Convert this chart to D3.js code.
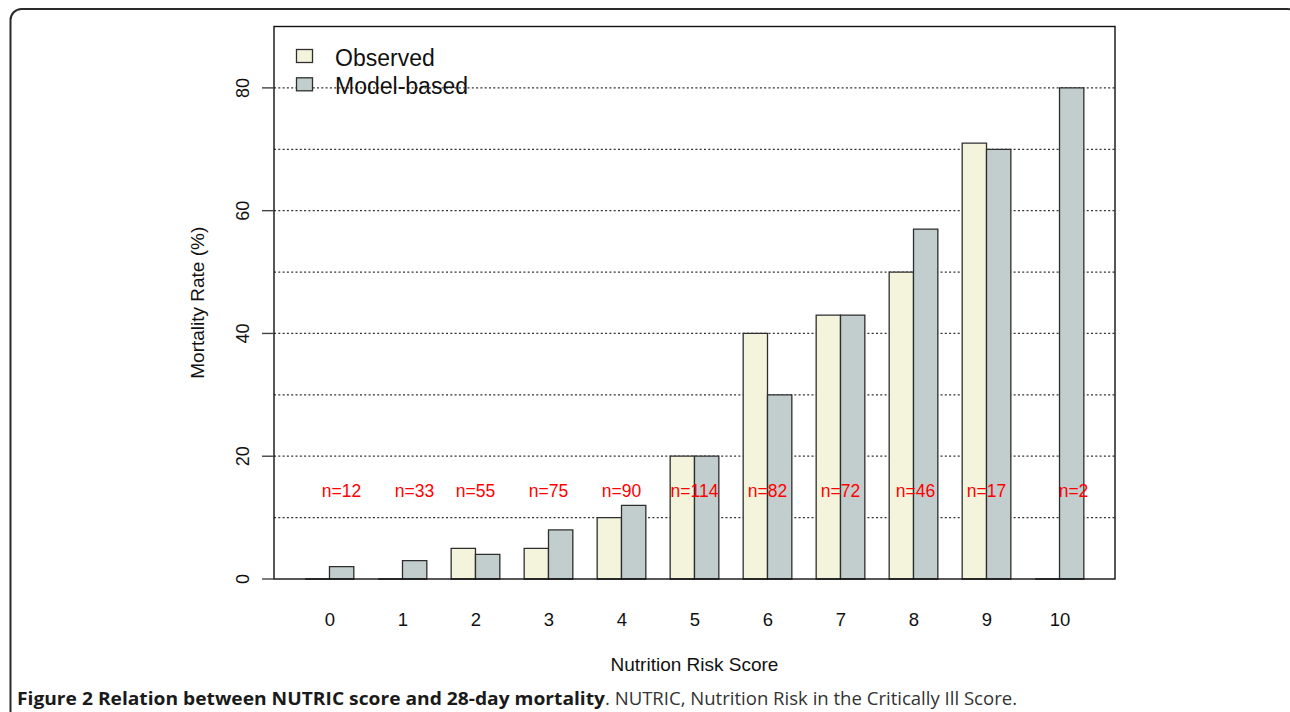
<!DOCTYPE html>
<html>
<head>
<meta charset="utf-8">
<script src="https://cdn.jsdelivr.net/npm/d3@7"></script>
<style>
  body { margin: 0; background: #fff; }
  svg { display: block; }
</style>
</head>
<body>
<svg></svg>
<script>
// data
const scores = [0, 1, 2, 3, 4, 5, 6, 7, 8, 9, 10];
const observed = [0, 0, 5, 5, 10, 20, 40, 43, 50, 71, 0];
const modelBased = [2, 3, 4, 8, 12, 20, 30, 43, 57, 70, 80];
const counts = [12, 33, 55, 75, 90, 114, 82, 72, 46, 17, 2];
const yTicks = [0, 20, 40, 60, 80];
const gridValues = [10, 20, 30, 40, 50, 60, 70, 80];
const seriesNames = ["Observed", "Model-based"];

const w = 1290, h = 712;
const box = { left: 274, right: 1115, top: 26.5, bottom: 579 };
const colors = ["#f4f4dc", "#c2cdcd"];
const chartFont = "'Liberation Sans', Arial, sans-serif";

const svg = d3.select("svg").attr("width", w).attr("height", h);

// outer frame of the figure panel
svg.append("rect")
  .attr("x", 10.5).attr("y", 9)
  .attr("width", 1288).attr("height", 740)
  .attr("rx", 11)
  .attr("fill", "none")
  .attr("stroke", "#2a2a2a")
  .attr("stroke-width", 2);

// like R barplot: one bar unit each, one unit of space before each group, 4% padding
let xScale = d3.scaleLinear()
  .domain([-0.28, 34.28])
  .range([box.left, box.right]);
let yScale = d3.scaleLinear()
  .domain([0, 90])
  .range([box.bottom, box.top]);
const barW = xScale(1) - xScale(0);

// dotted grid
svg.append("g").selectAll("line")
  .data(gridValues)
  .enter().append("line")
  .attr("x1", box.left).attr("x2", box.right)
  .attr("y1", d => yScale(d)).attr("y2", d => yScale(d))
  .attr("stroke", "#333")
  .attr("stroke-width", 1.3)
  .attr("stroke-dasharray", "2,2.3");

// bars as paths so zero values still show as a flat line
function barPath(x, v) {
  const y0 = yScale(0), y1 = yScale(v);
  return `M${x},${y0}V${y1}H${x + barW}V${y0}Z`;
}
const bars = svg.append("g");
[observed, modelBased].forEach(function(series, s) {
  bars.selectAll(".s" + s)
    .data(series)
    .enter().append("path")
    .attr("class", "s" + s)
    .attr("d", (d, i) => barPath(xScale(3 * i + 1 + s), d))
    .attr("fill", colors[s])
    .attr("stroke", "#2e2e2e")
    .attr("stroke-width", 1.3);
});

// plot box
svg.append("rect")
  .attr("x", box.left).attr("y", box.top)
  .attr("width", box.right - box.left).attr("height", box.bottom - box.top)
  .attr("fill", "none")
  .attr("stroke", "#111")
  .attr("stroke-width", 1.4);

// y axis: ticks to the left, rotated labels
const yAxisG = svg.append("g");
yAxisG.selectAll("line")
  .data(yTicks)
  .enter().append("line")
  .attr("x1", box.left - 12).attr("x2", box.left)
  .attr("y1", d => yScale(d)).attr("y2", d => yScale(d))
  .attr("stroke", "#444")
  .attr("stroke-width", 1.4);
yAxisG.selectAll("text")
  .data(yTicks)
  .enter().append("text")
  .attr("transform", d => `translate(248.5,${yScale(d)})rotate(-90)`)
  .attr("text-anchor", "middle")
  .style("font-family", chartFont)
  .style("font-size", "18px")
  .attr("fill", "#111")
  .text(d => d);

// x axis: labels only, at group centres
const xAxis = d3.axisBottom(xScale)
  .tickValues(scores.map(s => 3 * s + 2))
  .tickFormat((d, i) => scores[i])
  .tickSize(0)
  .tickPadding(0);
const xAxisG = svg.append("g")
  .attr("transform", `translate(0,${box.bottom})`)
  .call(xAxis);
xAxisG.select(".domain").remove();
xAxisG.selectAll("text")
  .attr("dy", null)
  .attr("y", 47)
  .style("font-family", chartFont)
  .style("font-size", "18.5px")
  .attr("fill", "#111");

// sample sizes, in red
const nudge = { 0: 12, 1: 12, 10: 14, 8: 2 };
svg.append("g").selectAll("text")
  .data(counts)
  .enter().append("text")
  .attr("x", (d, i) => xScale(3 * i + 2) + (nudge[i] || 0))
  .attr("y", 496.5)
  .attr("text-anchor", "middle")
  .style("font-family", chartFont)
  .style("font-size", "17.5px")
  .attr("fill", "#ff0000")
  .text(d => "n=" + d);

// axis titles
svg.append("text")
  .attr("x", (box.left + box.right) / 2)
  .attr("y", 670.5)
  .attr("text-anchor", "middle")
  .style("font-family", chartFont)
  .style("font-size", "19px")
  .attr("fill", "#111")
  .text("Nutrition Risk Score");
svg.append("text")
  .attr("transform", `translate(204,${(box.top + box.bottom) / 2})rotate(-90)`)
  .attr("text-anchor", "middle")
  .style("font-family", chartFont)
  .style("font-size", "19px")
  .attr("fill", "#111")
  .text("Mortality Rate (%)");

// legend
const legend = svg.append("g").selectAll("g")
  .data(seriesNames)
  .enter().append("g")
  .attr("transform", (d, i) => `translate(0,${i * 28.3})`);
legend.append("rect")
  .attr("x", 296.5).attr("y", 49.5)
  .attr("width", 16).attr("height", 13)
  .attr("fill", (d, i) => colors[i])
  .attr("stroke", "#2e2e2e")
  .attr("stroke-width", 1.3);
legend.append("text")
  .attr("x", 335)
  .attr("y", 65.5)
  .style("font-family", chartFont)
  .style("font-size", "23px")
  .attr("fill", "#111")
  .text(d => d);

// caption, bold lead then plain text
const capFont = "'Open Sans', sans-serif";
svg.append("text")
  .attr("x", 17).attr("y", 705)
  .attr("textLength", 588)
  .attr("lengthAdjust", "spacingAndGlyphs")
  .style("font-family", capFont)
  .style("font-size", "18px")
  .style("font-weight", 700)
  .attr("fill", "#1a1a1a")
  .text("Figure 2 Relation between NUTRIC score and 28-day mortality");
svg.append("text")
  .attr("x", 605).attr("y", 705)
  .attr("textLength", 412)
  .attr("lengthAdjust", "spacingAndGlyphs")
  .style("font-family", capFont)
  .style("font-size", "18px")
  .attr("fill", "#333")
  .text(". NUTRIC, Nutrition Risk in the Critically Ill Score.");
</script>
</body>
</html>
